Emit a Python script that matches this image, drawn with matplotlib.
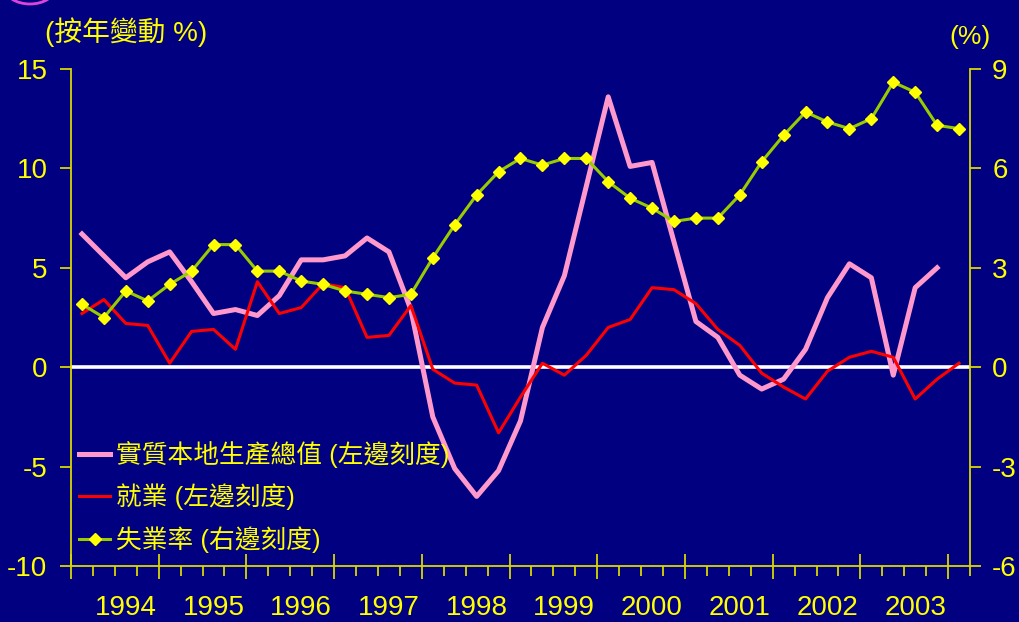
import matplotlib
matplotlib.use("Agg")
import matplotlib.pyplot as plt
from matplotlib.patches import Ellipse
import numpy as np

# ---- data (quarterly, 1994 Q1 .. 2004 Q1) ----
years = ["1994", "1995", "1996", "1997", "1998", "1999", "2000", "2001", "2002", "2003"]
gdp = [6.7, 5.6, 4.5, 5.3, 5.8, 4.3, 2.7, 2.9, 2.6, 3.6,
       5.4, 5.4, 5.6, 6.5, 5.8, 2.9, -2.5, -5.1, -6.5, -5.2,
       -2.7, 2.0, 4.6, 9.1, 13.6, 10.1, 10.3, 6.3, 2.3, 1.5,
       -0.4, -1.1, -0.6, 0.9, 3.5, 5.2, 4.5, -0.4, 4.0, 5.0]
employment = [2.7, 3.4, 2.2, 2.1, 0.2, 1.8, 1.9, 0.9, 4.3, 2.7,
              3.0, 4.2, 4.0, 1.5, 1.6, 3.1, -0.1, -0.8, -0.9, -3.3,
              -1.5, 0.2, -0.4, 0.6, 2.0, 2.4, 4.0, 3.9, 3.2, 1.9,
              1.1, -0.3, -1.0, -1.6, -0.2, 0.5, 0.8, 0.5, -1.6, -0.6, 0.2]
unemployment = [1.9, 1.5, 2.3, 2.0, 2.5, 2.9, 3.7, 3.7, 2.9, 2.9,
                2.6, 2.5, 2.3, 2.2, 2.1, 2.2, 3.3, 4.3, 5.2, 5.9,
                6.3, 6.1, 6.3, 6.3, 5.6, 5.1, 4.8, 4.4, 4.5, 4.5,
                5.2, 6.2, 7.0, 7.7, 7.4, 7.2, 7.5, 8.6, 8.3, 7.3, 7.2]
labels = ["實質本地生產總值 (左邊刻度)", "就業 (左邊刻度)", "失業率 (右邊刻度)"]

NAVY = "#000080"
YEL = "#FFFF00"
AXC = "#D8D800"
FONT = ["Liberation Sans", "Noto Sans CJK TC", "DejaVu Sans"]
plt.rcParams["font.family"] = FONT
plt.rcParams["axes.unicode_minus"] = False

fig = plt.figure(figsize=(10.19, 6.22), dpi=100, facecolor=NAVY)
ax = fig.add_axes([71 / 1019, 1 - 566 / 622, (970 - 71) / 1019, (566 - 69) / 622])
ax.set_facecolor(NAVY)
ax2 = ax.twinx()

xg = np.arange(len(gdp))
xe = np.arange(len(employment))
xu = np.arange(len(unemployment))

ax.axhline(0, color="white", lw=2.6, zorder=1)
l1, = ax.plot(xg, gdp, color="#FF99CC", lw=3.6, zorder=3, label=labels[0])
l2, = ax.plot(xe, employment, color="#FF0000", lw=2.2, zorder=4, label=labels[1])
l3, = ax2.plot(xu, unemployment, color="#99CC00", lw=2.2, marker="D", ms=6.5,
               mfc=YEL, mec=YEL, label=labels[2])

nq = len(unemployment)
ax.set_xlim(-0.5, nq - 0.5)
ax.set_ylim(-10, 15)
ax2.set_ylim(-6, 9)
ax.set_yticks(np.arange(-10, 16, 5))
ax2.set_yticks(np.arange(-6, 10, 3))

# x ticks: year boundaries (major, crossing), quarters (minor)
ax.set_xticks(np.arange(-0.5, nq - 0.5, 4))
ax.set_xticks(np.arange(-0.5, nq, 1), minor=True)
ax.tick_params(axis="x", which="major", direction="inout", length=18, width=1.3,
               color=AXC, labelbottom=False)
ax.tick_params(axis="x", which="minor", direction="out", length=7, width=1.3, color=AXC)

# year labels
sec = ax.secondary_xaxis("bottom")
sec.set_xticks(np.arange(len(years)) * 4 + 2, years)
sec.tick_params(length=0, pad=21, labelsize=20, labelcolor=YEL)
sec.spines["bottom"].set_visible(False)

ax.tick_params(axis="y", direction="out", length=8, width=1.3, color=AXC,
               labelsize=20, labelcolor=YEL, pad=9)
ax2.tick_params(axis="y", direction="out", length=8, width=1.3, color=AXC,
                labelsize=20, labelcolor=YEL, pad=8)

for a in (ax, ax2):
    a.spines["top"].set_visible(False)
    for s in ("left", "right", "bottom"):
        a.spines[s].set_color(AXC)
        a.spines[s].set_linewidth(1.3)
ax.spines["right"].set_visible(False)
ax2.spines["left"].set_visible(False)
ax2.spines["bottom"].set_visible(False)

leg = ax2.legend(handles=[l1, l2, l3], loc="lower left", bbox_to_anchor=(-0.008, -0.005),
                 frameon=False, fontsize=18.5, handlelength=1.2, handletextpad=0.25,
                 labelspacing=0.62, borderaxespad=0.2)
for t in leg.get_texts():
    t.set_color(YEL)

fig.text(45 / 1019, 1 - 32 / 622, "(按年變動 %)", color=YEL, fontsize=20,
         ha="left", va="center")
fig.text(991 / 1019, 1 - 37 / 622, "(%)", color=YEL, fontsize=19,
         ha="right", va="center")

# decorative magenta arc clipped at top-left corner
fig.patches.append(Ellipse((30 / 1019, 1 + 12 / 622), 50 / 1019, 32 / 622,
                           transform=fig.transFigure, fill=False,
                           edgecolor="#DD44DD", lw=2))

fig.savefig("out.png", dpi=100, facecolor=NAVY)
